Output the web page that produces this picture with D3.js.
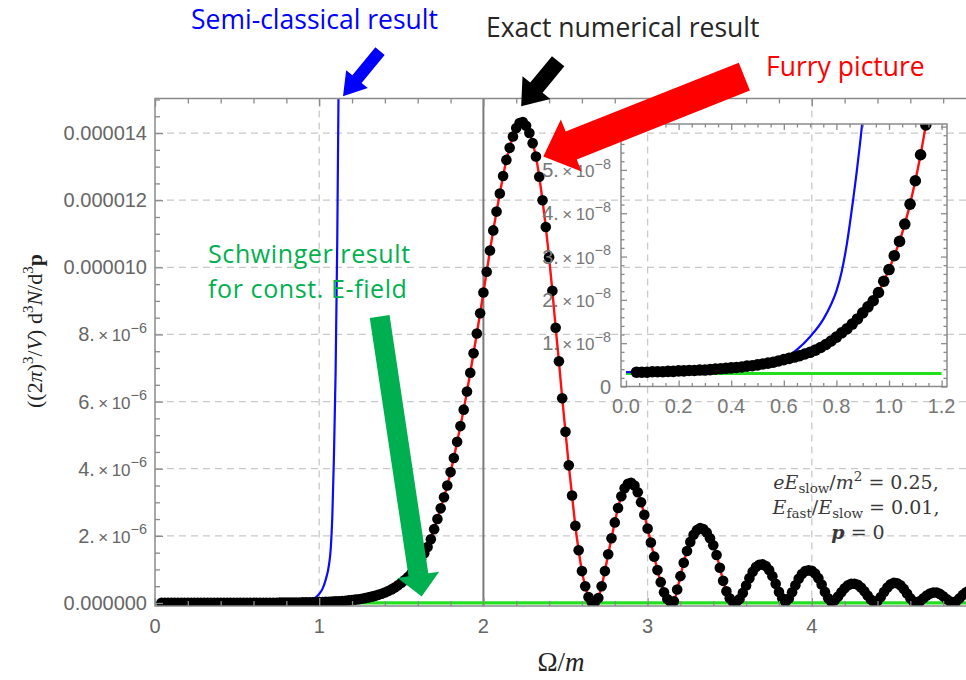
<!DOCTYPE html>
<html>
<head>
<meta charset="utf-8">
<script src="https://cdn.jsdelivr.net/npm/d3@7"></script>
<style>
  body { margin: 0; background: #fff; }
  svg { display: block; }
</style>
</head>
<body>
<svg id="chart" width="966" height="680"></svg>
<script>
// ---------------------------------------------------------------
// Pair-production spectrum, values in units of 1e-6
// ---------------------------------------------------------------

// Exact numerical result (black points), Omega/m sample positions
const exactOmega = [
  0.04,0.06,0.08,0.10,0.12,0.14,0.16,0.18,0.20,0.22,0.24,0.26,0.28,0.30,0.32,0.34,0.36,0.38,0.40,0.42,
  0.44,0.46,0.48,0.50,0.52,0.54,0.56,0.58,0.60,0.62,0.64,0.66,0.68,0.70,0.72,0.74,0.76,0.78,0.80,0.82,
  0.84,0.86,0.88,0.90,0.92,0.94,0.96,0.98,1.00,1.02,1.04,1.06,1.08,1.10,1.12,1.14,1.16,1.18,1.20,1.22,
  1.24,1.26,1.28,1.30,1.32,1.34,1.36,1.38,1.40,1.42,1.44,1.46,1.48,1.50,1.52,1.54,1.56,1.58,1.60,1.62,
  1.64,1.66,1.68,1.70,1.72,1.74,1.76,1.78,1.80,1.82,1.84,1.86,1.88,1.90,1.92,1.94,1.96,1.98,2.00,2.02,
  2.04,2.06,2.08,2.10,2.12,2.14,2.16,2.18,2.20,2.22,2.24,2.26,2.28,2.30,2.32,2.34,2.36,2.38,2.40,2.42,
  2.44,2.46,2.48,2.50,2.52,2.54,2.56,2.58,2.60,2.62,2.64,2.66,2.68,2.70,2.72,2.74,2.76,2.78,2.80,2.82,
  2.84,2.86,2.88,2.90,2.92,2.94,2.96,2.98,3.00,3.02,3.04,3.06,3.08,3.10,3.12,3.14,3.16,3.18,3.20,3.22,
  3.24,3.26,3.28,3.30,3.32,3.34,3.36,3.38,3.40,3.42,3.44,3.46,3.48,3.50,3.52,3.54,3.56,3.58,3.60,3.62,
  3.64,3.66,3.68,3.70,3.72,3.74,3.76,3.78,3.80,3.82,3.84,3.86,3.88,3.90,3.92,3.94,3.96,3.98,4.00,4.02,
  4.04,4.06,4.08,4.10,4.12,4.14,4.16,4.18,4.20,4.22,4.24,4.26,4.28,4.30,4.32,4.34,4.36,4.38,4.40,4.42,
  4.44,4.46,4.48,4.50,4.52,4.54,4.56,4.58,4.60,4.62,4.64,4.66,4.68,4.70,4.72,4.74,4.76,4.78,4.80,4.82,
  4.84,4.86,4.88,4.90,4.92,4.94,4.96
];
const exactValues = [
  0.0033,0.0033,0.0033,0.0034,0.0034,0.0034,0.0035,0.0035,0.0036,0.0036,0.0037,0.0037,0.0038,0.0038,0.0039,0.0040,0.0041,0.0042,0.0043,0.0044,
  0.0045,0.0047,0.0048,0.0050,0.0052,0.0054,0.0056,0.0059,0.0062,0.0065,0.0068,0.0071,0.0075,0.0079,0.0084,0.0090,0.0097,0.0105,0.0114,0.0124,
  0.0133,0.0144,0.0156,0.0170,0.0184,0.0198,0.0217,0.0243,0.0270,0.0302,0.0335,0.0375,0.0421,0.0475,0.0535,0.0604,0.068,0.077,0.088,0.100,
  0.113,0.128,0.146,0.166,0.188,0.213,0.242,0.275,0.31,0.355,0.405,0.46,0.525,0.60,0.68,0.77,0.87,0.99,1.12,1.30,
  1.48,1.67,1.90,2.20,2.50,2.82,3.15,3.50,3.90,4.32,4.80,5.27,5.76,6.30,6.86,7.44,8.03,8.63,9.25,9.87,
  10.50,11.10,11.66,12.20,12.72,13.20,13.56,13.90,14.15,14.30,14.33,14.22,14.00,13.70,13.30,12.70,12.00,11.20,10.30,9.30,
  8.20,7.20,6.10,5.10,4.10,3.20,2.30,1.57,0.95,0.50,0.18,0.03,0.04,0.15,0.50,0.95,1.45,1.93,2.40,2.83,
  3.18,3.42,3.55,3.58,3.50,3.30,3.00,2.63,2.22,1.80,1.38,0.98,0.62,0.32,0.12,0.03,0.05,0.40,0.80,1.20,
  1.55,1.82,2.03,2.17,2.23,2.20,2.10,1.93,1.72,1.43,1.05,0.66,0.35,0.14,0.03,0.03,0.12,0.30,0.52,0.74,
  0.93,1.07,1.14,1.15,1.10,0.98,0.80,0.57,0.33,0.14,0.03,0.13,0.32,0.53,0.72,0.86,0.95,0.97,0.96,0.88,
  0.74,0.55,0.33,0.14,0.03,0.08,0.19,0.32,0.44,0.53,0.57,0.575,0.54,0.46,0.35,0.22,0.10,0.03,0.06,0.18,
  0.33,0.46,0.56,0.60,0.59,0.53,0.42,0.28,0.14,0.04,0.02,0.06,0.14,0.22,0.28,0.31,0.31,0.27,0.20,0.12,
  0.05,0.02,0.05,0.14,0.24,0.32,0.38
];

// Semi-classical result (blue curve)
const semiOmega  = [0, 0.1, 0.2, 0.3, 0.4, 0.5, 0.55, 0.6, 0.65, 0.7, 0.75, 0.78, 0.8, 0.82, 0.84, 0.86,
                    0.88, 0.9, 0.92, 0.94, 0.96, 0.98, 1.0, 1.02, 1.04, 1.06, 1.07, 1.08, 1.09, 1.1, 1.11, 1.12];
const semiValues = [0.0033, 0.0034, 0.0036, 0.0038, 0.0043, 0.0050, 0.0055, 0.0063, 0.0085, 0.0115, 0.0155,
                    0.019, 0.022, 0.0265, 0.033, 0.0415, 0.051, 0.062, 0.077, 0.097, 0.125, 0.17, 0.27, 0.42,
                    0.70, 1.15, 1.6, 2.6, 4.4, 6.9, 10.8, 16.5];

// Schwinger result for a constant field (green line)
const schwingerOmega  = [0, 1.2, 5];
const schwingerValues = [0.003, 0.003, 0.003];

// Axis ticks
const xTickValues = [0, 1, 2, 3, 4];
const xTickLabels = ["0", "1", "2", "3", "4"];
const yTickValues = [0, 2, 4, 6, 8, 10, 12, 14];
const yTickLabels = ["0.000000", "2.×10^-6", "4.×10^-6", "6.×10^-6", "8.×10^-6", "0.000010", "0.000012", "0.000014"];
const insetXTickValues = [0, 0.2, 0.4, 0.6, 0.8, 1.0, 1.2];
const insetXTickLabels = ["0.0", "0.2", "0.4", "0.6", "0.8", "1.0", "1.2"];
const insetYTickValues = [0, 0.01, 0.02, 0.03, 0.04, 0.05];
const insetYTickLabels = ["0", "1.×10^-8", "2.×10^-8", "3.×10^-8", "4.×10^-8", "5.×10^-8"];

// ---------------------------------------------------------------
const svg = d3.select("#chart");
const exact = exactOmega.map((o, i) => [o, exactValues[i]]);
const semi = semiOmega.map((o, i) => [o, semiValues[i]]);
const schwinger = schwingerOmega.map((o, i) => [o, schwingerValues[i]]);

const TICK_FONT = "'Liberation Sans', Arial, sans-serif";
const SERIF = "'Liberation Serif', 'Times New Roman', serif";
const NOTE_FONT = "'Open Sans', sans-serif";
const FRAME = "#8a8a8a";
const LABEL = "#666";

// Main panel geometry
const M = { left: 155, right: 976, top: 98.5, bottom: 606 };
const x = d3.scaleLinear().domain([0, 5]).range([M.left, M.right]);
const y = d3.scaleLinear().domain([-0.09, 15.03]).range([M.bottom, M.top]);

const defs = svg.append("defs");
defs.append("clipPath").attr("id", "clipMain").append("rect")
  .attr("x", M.left).attr("y", M.top).attr("width", M.right - M.left).attr("height", M.bottom - M.top);

// rich text helper: parts with optional italic / bold / baseline offset / size
function richText(sel, parts) {
  let cur = 0;
  parts.forEach(p => {
    const off = p.off || 0;
    const ts = sel.append("tspan").text(p.t).attr("dy", off - cur);
    cur = off;
    if (p.size) ts.attr("font-size", p.size);
    if (p.it) ts.attr("font-style", "italic");
    if (p.b) ts.attr("font-weight", "bold");
  });
}
function sciParts(label, size) {
  const m = label.match(/^(.*)×10\^(.*)$/);
  if (!m) return [{ t: label }];
  return [{ t: m[1] }, { t: "\u2009×\u200910", size: size * 0.85 }, { t: "", size: size },
          { t: m[2].replace("-", "\u2212"), size: size * 0.72, off: -size * 0.42 }];
}

// ---- main grid
const gMain = svg.append("g");
gMain.append("g").selectAll("line").data([2, 4, 6, 8, 10, 12, 14]).join("line")
  .attr("x1", M.left).attr("x2", M.right).attr("y1", d => y(d)).attr("y2", d => y(d))
  .attr("stroke", "#c9c9c9").attr("stroke-width", 1.3).attr("stroke-dasharray", "7,5");
gMain.append("g").selectAll("line").data([1, 3, 4]).join("line")
  .attr("x1", d => x(d)).attr("x2", d => x(d)).attr("y1", M.top).attr("y2", M.bottom)
  .attr("stroke", "#c9c9c9").attr("stroke-width", 1.3).attr("stroke-dasharray", "7,5");
// threshold line at Omega = 2m
gMain.append("line").attr("x1", x(2)).attr("x2", x(2)).attr("y1", M.top).attr("y2", M.bottom)
  .attr("stroke", "#7a7a7a").attr("stroke-width", 2);

// ---- main curves
const plot = gMain.append("g").attr("clip-path", "url(#clipMain)");
const line = d3.line().x(d => x(d[0])).y(d => y(d[1]));
plot.append("path").datum(schwinger).attr("d", line)
  .attr("fill", "none").attr("stroke", "#22e01e").attr("stroke-width", 3.2);
plot.append("path").datum(semi).attr("d", line.curve(d3.curveMonotoneX))
  .attr("fill", "none").attr("stroke", "#0a0aff").attr("stroke-width", 2.2);
plot.append("path").datum(exact).attr("d", d3.line().x(d => x(d[0])).y(d => y(d[1])).curve(d3.curveMonotoneX))
  .attr("fill", "none").attr("stroke", "#ff1010").attr("stroke-width", 2.4);
plot.append("g").selectAll("circle").data(exact).join("circle")
  .attr("cx", d => x(d[0])).attr("cy", d => y(d[1])).attr("r", 5.3).attr("fill", "#000");

// ---- main frame and ticks
gMain.append("rect").attr("x", M.left).attr("y", M.top).attr("width", M.right - M.left)
  .attr("height", M.bottom - M.top).attr("fill", "none").attr("stroke", FRAME).attr("stroke-width", 1.5);

function tickAxis(g, axis) {
  g.call(axis);
  g.select(".domain").remove();
  g.selectAll(".tick line").attr("stroke", FRAME).attr("stroke-width", 1.3);
  g.selectAll(".tick text").remove();
}
const xMinor = d3.range(0, 5.001, 0.2).filter(v => Math.abs(v - Math.round(v)) > 1e-6);
const yMinor = d3.range(0, 15.001, 0.5).filter(v => v % 2 !== 0);
tickAxis(gMain.append("g").attr("transform", `translate(0,${M.bottom})`), d3.axisBottom(x).tickValues([0,1,2,3,4,5]).tickSize(-8));
tickAxis(gMain.append("g").attr("transform", `translate(0,${M.bottom})`), d3.axisBottom(x).tickValues(xMinor).tickSize(-5));
tickAxis(gMain.append("g").attr("transform", `translate(0,${M.top})`), d3.axisTop(x).tickValues([0,1,2,3,4,5]).tickSize(-8));
tickAxis(gMain.append("g").attr("transform", `translate(0,${M.top})`), d3.axisTop(x).tickValues(xMinor).tickSize(-5));
tickAxis(gMain.append("g").attr("transform", `translate(${M.left},0)`), d3.axisLeft(y).tickValues(yTickValues).tickSize(-8));
tickAxis(gMain.append("g").attr("transform", `translate(${M.left},0)`), d3.axisLeft(y).tickValues(yMinor).tickSize(-5));

// tick labels
gMain.append("g").selectAll("text").data(xTickValues).join("text")
  .attr("x", d => x(d)).attr("y", 633).attr("text-anchor", "middle")
  .attr("font-family", TICK_FONT).attr("font-size", 20).attr("fill", LABEL)
  .text((d, i) => xTickLabels[i]);
yTickValues.forEach((v, i) => {
  const t = gMain.append("text").attr("x", 147).attr("y", y(v) + 7).attr("text-anchor", "end")
    .attr("font-family", TICK_FONT).attr("font-size", 20).attr("fill", LABEL);
  richText(t, sciParts(yTickLabels[i], 20));
});

// axis titles
const xt = gMain.append("text").attr("x", 561).attr("y", 671).attr("text-anchor", "middle")
  .attr("font-family", SERIF).attr("font-size", 27).attr("fill", "#222");
richText(xt, [{ t: "Ω/" }, { t: "m", it: true }]);
const yt = gMain.append("text").attr("transform", "translate(42,331) rotate(-90)").attr("text-anchor", "middle")
  .attr("font-family", SERIF).attr("font-size", 22).attr("fill", "#222");
richText(yt, [
  { t: "((2" }, { t: "π", it: true }, { t: ")" }, { t: "3", size: 15, off: -9 },
  { t: "/" }, { t: "V", it: true }, { t: ") d" }, { t: "3", size: 15, off: -9 },
  { t: "N", it: true }, { t: "/d" }, { t: "3", size: 15, off: -9 }, { t: "p", b: true }
]);

// ---- parameter note
const note = gMain.append("g").attr("font-family", "'DejaVu Serif', serif").attr("font-size", 19)
  .attr("fill", "#3a3a3a").attr("text-anchor", "middle");
richText(note.append("text").attr("x", 856).attr("y", 489), [
  { t: "eE", it: true }, { t: "slow", size: 13.5, off: 3.5 }, { t: "/" }, { t: "m", it: true },
  { t: "2", size: 13.5, off: -8 }, { t: " = 0.25," }
]);
richText(note.append("text").attr("x", 856).attr("y", 514), [
  { t: "E", it: true }, { t: "fast", size: 13.5, off: 3.5 }, { t: "/" }, { t: "E", it: true },
  { t: "slow", size: 13.5, off: 3.5 }, { t: " = 0.01," }
]);
richText(note.append("text").attr("x", 858).attr("y", 539), [
  { t: "p", it: true, b: true }, { t: " = 0" }
]);

// ---------------------------------------------------------------
// Inset: zoom on the low-frequency region
// ---------------------------------------------------------------
const I = { left: 621, right: 947, top: 124, bottom: 386.5 };
const xi = d3.scaleLinear().domain([-0.019, 1.2205]).range([I.left, I.right]);
const yi = d3.scaleLinear().domain([0, 0.0606]).range([I.bottom, I.top]);
defs.append("clipPath").attr("id", "clipInset").append("rect")
  .attr("x", I.left).attr("y", I.top).attr("width", I.right - I.left).attr("height", I.bottom - I.top);

const gIn = svg.append("g");
const inPlot = gIn.append("g").attr("clip-path", "url(#clipInset)");
const lineI = d3.line().x(d => xi(d[0])).y(d => yi(d[1]));
inPlot.append("path").datum(schwinger.filter(d => d[0] <= 1.2)).attr("d", lineI)
  .attr("fill", "none").attr("stroke", "#22e01e").attr("stroke-width", 3.2);
inPlot.append("path").datum(semi).attr("d", lineI.curve(d3.curveMonotoneX))
  .attr("fill", "none").attr("stroke", "#0a0aff").attr("stroke-width", 2.2);
inPlot.append("path").datum(exact.filter(d => d[0] < 1.3))
  .attr("d", d3.line().x(d => xi(d[0])).y(d => yi(d[1])).curve(d3.curveMonotoneX))
  .attr("fill", "none").attr("stroke", "#ff1010").attr("stroke-width", 2.4);
inPlot.append("g").selectAll("circle").data(exact.filter(d => d[0] < 1.3)).join("circle")
  .attr("cx", d => xi(d[0])).attr("cy", d => yi(d[1])).attr("r", 5.8).attr("fill", "#000");

gIn.append("rect").attr("x", I.left).attr("y", I.top).attr("width", I.right - I.left)
  .attr("height", I.bottom - I.top).attr("fill", "none").attr("stroke", FRAME).attr("stroke-width", 1.5);
const xiMinor = d3.range(0, 1.2001, 0.05).filter(v => Math.abs(v / 0.2 - Math.round(v / 0.2)) > 1e-6);
const yiMinor = d3.range(0, 0.0601, 0.002).filter(v => Math.abs(v / 0.01 - Math.round(v / 0.01)) > 1e-6);
tickAxis(gIn.append("g").attr("transform", `translate(0,${I.bottom})`), d3.axisBottom(xi).tickValues(insetXTickValues).tickSize(-6));
tickAxis(gIn.append("g").attr("transform", `translate(0,${I.bottom})`), d3.axisBottom(xi).tickValues(xiMinor).tickSize(-3.5));
tickAxis(gIn.append("g").attr("transform", `translate(0,${I.top})`), d3.axisTop(xi).tickValues(insetXTickValues).tickSize(-6));
tickAxis(gIn.append("g").attr("transform", `translate(0,${I.top})`), d3.axisTop(xi).tickValues(xiMinor).tickSize(-3.5));
tickAxis(gIn.append("g").attr("transform", `translate(${I.left},0)`), d3.axisLeft(yi).tickValues([...insetYTickValues, 0.06]).tickSize(-6));
tickAxis(gIn.append("g").attr("transform", `translate(${I.left},0)`), d3.axisLeft(yi).tickValues(yiMinor).tickSize(-3.5));
tickAxis(gIn.append("g").attr("transform", `translate(${I.right},0)`), d3.axisRight(yi).tickValues([...insetYTickValues, 0.06]).tickSize(-6));
tickAxis(gIn.append("g").attr("transform", `translate(${I.right},0)`), d3.axisRight(yi).tickValues(yiMinor).tickSize(-3.5));

gIn.append("g").selectAll("text").data(insetXTickValues).join("text")
  .attr("x", d => xi(d)).attr("y", 413).attr("text-anchor", "middle")
  .attr("font-family", TICK_FONT).attr("font-size", 20).attr("fill", "#777")
  .text((d, i) => insetXTickLabels[i]);
insetYTickValues.forEach((v, i) => {
  const t = gIn.append("text").attr("x", 611).attr("y", yi(v) + 7).attr("text-anchor", "end")
    .attr("font-family", TICK_FONT).attr("font-size", 20).attr("fill", "#777");
  richText(t, sciParts(insetYTickLabels[i], 20));
});

// ---------------------------------------------------------------
// Annotations: labels with block arrows
// ---------------------------------------------------------------
function blockArrow(g, tip, tail, bodyW, headW, headL, color) {
  const dx = tip[0] - tail[0], dy = tip[1] - tail[1];
  const len = Math.hypot(dx, dy), ux = dx / len, uy = dy / len, px = -uy, py = ux;
  const bx = tip[0] - ux * headL, by = tip[1] - uy * headL;
  const pts = [
    [tail[0] + px * bodyW / 2, tail[1] + py * bodyW / 2],
    [bx + px * bodyW / 2, by + py * bodyW / 2],
    [bx + px * headW / 2, by + py * headW / 2],
    tip,
    [bx - px * headW / 2, by - py * headW / 2],
    [bx - px * bodyW / 2, by - py * bodyW / 2],
    [tail[0] - px * bodyW / 2, tail[1] - py * bodyW / 2]
  ];
  g.append("polygon").attr("points", pts.map(p => p.join(",")).join(" ")).attr("fill", color);
}
const gAnn = svg.append("g").attr("font-family", NOTE_FONT).attr("font-size", 26.5);

gAnn.append("text").attr("x", 191).attr("y", 29).attr("fill", "#0000ff").text("Semi-classical result");
blockArrow(gAnn, [x(1.145), y(15.1)], [x(1.145) + 37, y(15.1) - 45], 12, 28, 22, "#0000ff");

gAnn.append("text").attr("x", 486).attr("y", 37).attr("fill", "#262626").text("Exact numerical result");
blockArrow(gAnn, [x(2.23), y(14.8)], [x(2.23) + 37, y(14.8) - 45], 16, 36, 24, "#000");

gAnn.append("text").attr("x", 766).attr("y", 76).attr("fill", "#ff0000").text("Furry picture");
blockArrow(gAnn, [x(2.365), y(13.3)], [x(2.365) + 201, y(13.3) - 80], 30, 56, 30, "#ff0000");

// two-line label for the constant-field result
const schwLines = ["Schwinger result", "for const. E-field"];
gAnn.append("g").attr("font-size", 25).attr("letter-spacing", 0.6).attr("fill", "#00b050")
  .selectAll("text").data(schwLines).join("text")
  .attr("x", 208).attr("y", (d, i) => 263 + i * 34.5).text(d => d);
blockArrow(gAnn, [x(1.624), y(0.19)], [x(1.624) - 42, y(0.19) - 280], 20, 42, 22, "#00b050");
</script>
</body>
</html>
